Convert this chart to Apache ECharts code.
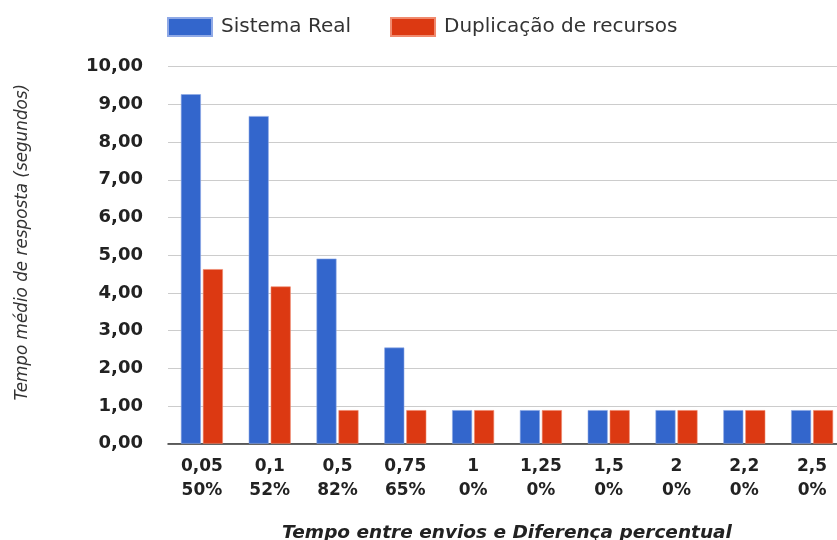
<!DOCTYPE html>
<html>
<head>
<meta charset="utf-8">
<script src="https://cdn.jsdelivr.net/npm/echarts@6/dist/echarts.min.js"></script>
<style>html,body{margin:0;padding:0;background:#fff;overflow:hidden}#c{width:837px;height:540px}</style>
</head>
<body>
<div id="c"></div>
<script>
const tempos = ['0,05','0,1','0,5','0,75','1','1,25','1,5','2','2,2','2,5'];
const diferencas = ['50%','52%','82%','65%','0%','0%','0%','0%','0%','0%'];
const sistemaReal = [9.27, 8.69, 4.91, 2.55, 0.89, 0.89, 0.89, 0.89, 0.89, 0.89];
const duplicacao = [4.63, 4.17, 0.89, 0.89, 0.89, 0.89, 0.89, 0.89, 0.89, 0.89];
const yTicks = [0,1,2,3,4,5,6,7,8,9,10];

const FONT = 'DejaVu Sans, Verdana, sans-serif';
const categories = tempos.map((t,i)=>t+'\n'+diferencas[i]);
const chart = echarts.init(document.getElementById('c'), null, {renderer:'canvas'});
chart.setOption({
  animation:false,
  backgroundColor:'#fff',
  legend:{
    top:12, left:162,
    itemWidth:44, itemHeight:18, itemGap:39,
    icon:'rect',
    textStyle:{fontFamily:FONT,fontSize:20,color:'#333',padding:[0,0,0,4]},
    data:['Sistema Real','Duplicação de recursos']
  },
  grid:{left:168,right:-9,top:66.7,bottom:96.3,containLabel:false,outerBoundsMode:'none'},
  xAxis:{
    type:'category',
    data:categories,
    axisTick:{show:false},
    axisLine:{lineStyle:{color:'#333',width:1.5}},
    axisLabel:{interval:0,margin:11,fontFamily:FONT,fontWeight:'bold',fontSize:17,color:'#222',lineHeight:24},
    name:'Tempo entre envios e Diferença percentual',
    nameLocation:'middle',
    nameGap:80,
    nameTextStyle:{fontFamily:FONT,fontStyle:'italic',fontWeight:'bold',fontSize:18.5,color:'#222'}
  },
  yAxis:{
    type:'value',
    min:yTicks[0],max:yTicks[yTicks.length-1],interval:1,
    axisLine:{show:false},axisTick:{show:false},
    splitLine:{lineStyle:{color:'#cccccc',width:1}},
    axisLabel:{margin:25,fontFamily:FONT,fontWeight:'bold',fontSize:18,color:'#222',
      formatter:v=>v.toFixed(2).replace('.',',')},
    name:'Tempo médio de resposta (segundos)',
    nameLocation:'middle',
    nameGap:137,
    nameTextStyle:{fontFamily:FONT,fontStyle:'italic',fontSize:16.8,color:'#333',padding:[0,0,0,26]}
  },
  series:[
    {name:'Sistema Real',type:'bar',data:sistemaReal,barWidth:20,barGap:'10%',
      itemStyle:{color:'#3366cc',borderColor:'#8fa9e6',borderWidth:0.6}},
    {name:'Duplicação de recursos',type:'bar',data:duplicacao,barWidth:20,barGap:'10%',
      itemStyle:{color:'#dc3912',borderColor:'#f08a6e',borderWidth:0.6}}
  ]
});
</script>
</body>
</html>
